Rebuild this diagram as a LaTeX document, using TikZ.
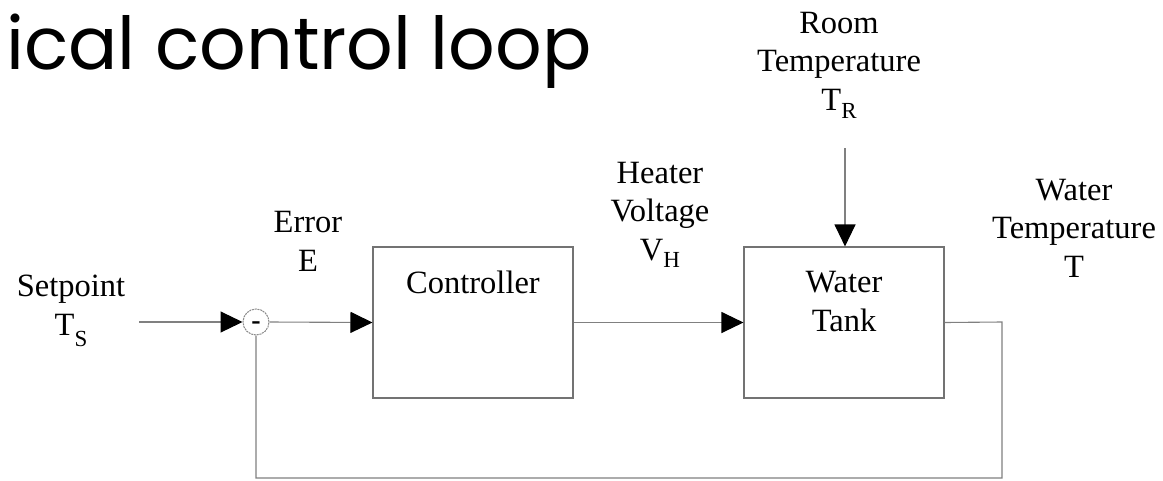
\documentclass[tikz,border=0pt]{standalone}
\usepackage{fontspec}
\setmainfont{Liberation Serif}
\newfontfamily\titlefont{Poppins}
\usetikzlibrary{arrows.meta}
\newcommand\lowsub[2]{\raisebox{-#1pt}{\fontsize{23}{23}\selectfont #2}}
\begin{document}
\begin{tikzpicture}[x=1pt,y=-1pt,
  lbl/.style={inner sep=0pt, anchor=base, align=center,
    font=\fontsize{32.5}{38.5}\selectfont},
  blockbox/.style={draw=black!55, line width=1.1pt, inner sep=0pt},
  sig/.style={draw=black!50, line width=1.1pt,
    -{Triangle[length=22pt,width=21pt,color=black,fill=black]}},
  wire/.style={draw=black!50, line width=1.1pt}]
\useasboundingbox (0,0) rectangle (1163,480);
% title
\node[inner sep=0pt, anchor=base west, font=\titlefont\fontsize{73}{73}\selectfont] (title) at (6,69) {ical control loop};
% blocks
\node[blockbox, minimum width=200pt, minimum height=151pt] (ctrl) at (473,322.5) {};
\node[blockbox, minimum width=200pt, minimum height=151pt] (tank) at (844,322.5) {};
\node[lbl] (ctrltxt) at (473,293) {Controller};
\node[lbl] (tanktxt) at (844,331) {Water\\Tank};
% summing junction
\node[circle, draw=black!45, line width=1pt, dash pattern=on 2pt off 0.8pt, minimum size=26pt, inner sep=0pt] (sum) at (256,322) {};
\node[inner sep=0pt, anchor=base, font=\fontsize{28}{28}\bfseries\selectfont] (minus) at (256,329) {-};
% labels (anchor = baseline of last line)
\node[lbl] (setp) at (71,335) {Setpoint\\T\lowsub{11}{S}};
\node[lbl] (err) at (308,271) {Error\\E};
\node[lbl] (heat) at (660,260) {Heater\\Voltage\\V\lowsub{7}{H}};
\node[lbl] (room) at (839,110) {Room\\Temperature\\T\lowsub{8}{R}};
\node[lbl] (wtemp) at (1074,277) {Water\\Temperature\\T};
% connector endpoints
\coordinate (in) at (139,322);
\coordinate (roomin) at (845,148);
\coordinate (c1) at (1002,322);
\coordinate (c2) at (1002,478);
\coordinate (c3) at (256,478);
% connectors
\draw[sig] (in) -- (sum.west);
\draw[sig] (sum.east) -- (ctrl.west);
\draw[sig] (ctrl.east) -- (tank.west);
\draw[sig] (roomin) -- (roomin |- tank.north);
\draw[wire] (tank.east) -- (c1) -- (c2) -- (c3) -- (sum.south);
\end{tikzpicture}
\end{document}
